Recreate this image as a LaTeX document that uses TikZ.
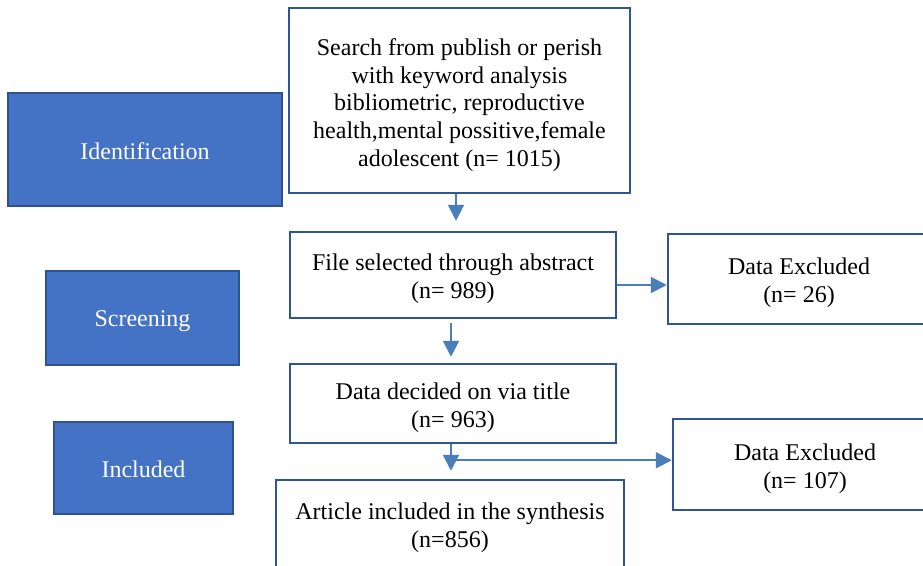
\documentclass[tikz,border=0pt]{standalone}
\usepackage{fontspec}
\setmainfont{Liberation Serif}
\usetikzlibrary{arrows.meta}
\definecolor{phase}{RGB}{68,114,196}
\definecolor{phaseline}{RGB}{47,82,143}
\definecolor{boxline}{RGB}{47,85,151}
\definecolor{arrowc}{RGB}{74,126,187}
\tikzset{
  phasebox/.style={draw=phaseline, fill=phase, line width=2pt, inner sep=0pt},
  stepbox/.style={draw=boxline, fill=white, line width=2.5pt, inner sep=0pt},
  txt/.style={inner sep=0pt, align=center},
  phasetxt/.style={inner sep=0pt, align=center, text=white},
  arr/.style={draw=arrowc, line width=2pt, -{Triangle[length=16pt,width=16pt]}}
}
\begin{document}
\begin{tikzpicture}[x=1pt,y=-1pt, font=\fontsize{24}{27.7}\selectfont]
\clip (0,0) rectangle (923,565);
\fill[white] (0,0) rectangle (923,565);
% phase boxes
\node[phasebox, minimum width=274pt, minimum height=113pt] (ident) at (145,149.5) {};
\node[phasetxt] (identt) at ([yshift=-1.5pt]ident.center) {Identification};
\node[phasebox, minimum width=193pt, minimum height=94pt] (screen) at (142.5,318) {};
\node[phasetxt] (screent) at ([yshift=-3.5pt]screen.center) {Screening};
\node[phasebox, minimum width=179pt, minimum height=92pt] (incl) at (143.5,468) {};
\node[phasetxt] (inclt) at ([yshift=-1pt]incl.center) {Included};
% step boxes
\node[stepbox, minimum width=341pt, minimum height=185pt] (search) at (459.5,100.5) {};
\node[txt] (searcht) at ([yshift=-4.5pt]search.center)
  {Search from publish or perish\\with keyword analysis\\bibliometric, reproductive\\health,mental possitive,female\\adolescent (n= 1015)};
\node[stepbox, minimum width=326pt, minimum height=86pt] (file) at (453,275) {};
\node[txt] (filet) at ([yshift=-4pt]file.center) {File selected through abstract\\(n= 989)};
\node[stepbox, minimum width=262pt, minimum height=90pt] (excla) at (799,279) {};
\node[txt] (exclat) at ([yshift=-4pt]excla.center) {Data Excluded\\(n= 26)};
\node[stepbox, minimum width=326pt, minimum height=79pt] (decided) at (453,403.5) {};
\node[txt] (decidedt) at ([yshift=-4pt]decided.center) {Data decided on via title\\(n= 963)};
\node[stepbox, minimum width=264pt, minimum height=91pt] (exclb) at (805,464.5) {};
\node[txt] (exclbt) at ([yshift=-4pt]exclb.center) {Data Excluded\\(n= 107)};
\node[stepbox, minimum width=348pt, minimum height=95pt] (article) at (450,527.5) {};
\node[txt] (articlet) at ([yshift=-0.5pt]article.center) {Article included in the synthesis\\(n=856)};
% connectors
\coordinate (a1) at ([xshift=3pt]file.north);
\draw[arr, shorten >=10pt] (search.south -| a1) -- (a1);
\coordinate (a2) at ([yshift=-10pt]file.east);
\draw[arr] (a2) -- (a2 -| excla.west);
\coordinate (a3) at ([xshift=-2pt]decided.north);
\draw[arr, shorten <=4pt, shorten >=6pt] (file.south -| a3) -- (a3);
\draw[arr, shorten >=8pt] (decided.south -| a3) -- (article.north -| a3);
\coordinate (j) at ([yshift=-16pt]decided.south -| a3);
\draw[arr] (j) -- (j -| exclb.west);
\end{tikzpicture}
\end{document}
